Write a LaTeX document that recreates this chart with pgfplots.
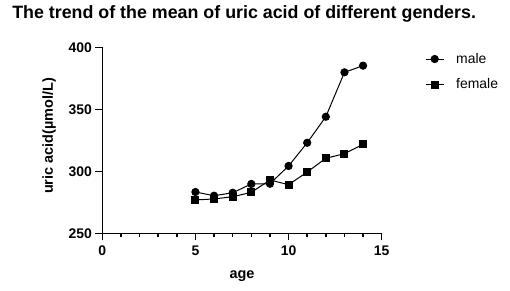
\documentclass[border=0pt]{standalone}
\usepackage{fontspec}
\setmainfont{Liberation Sans}
\usepackage{pgfplots}
\pgfplotsset{compat=1.18}
\begin{document}
\begin{tikzpicture}
\path[use as bounding box] (-102.3bp,-57.7bp) rectangle (407.7bp,233.3bp);
\begin{axis}[
  scale only axis,
  width=279.4bp, height=186bp,
  xmin=0, xmax=15, ymin=250, ymax=400,
  axis lines=left,
  axis line style={-, line width=1.5bp},
  xtick={0,5,10,15},
  minor xtick={1,2,3,4,6,7,8,9,11,12,13,14},
  ytick={250,300,350,400},
  tick align=outside,
  major tick length=7bp,
  minor tick length=4bp,
  tick style={line width=1.5bp, black},
  /pgf/number format/assume math mode=true,
  ticklabel style={font=\bfseries\fontsize{14}{16}\selectfont},
  xticklabel style={yshift=-2bp},
  xlabel={age},
  ylabel={uric acid(µmol/L)},
  xlabel style={font=\bfseries\fontsize{14.5}{16}\selectfont, at={(axis description cs:0.5,-0.232)}, anchor=center},
  ylabel style={font=\bfseries\fontsize{14.5}{16}\selectfont, at={(axis description cs:-0.19,0.523)}, anchor=center},
  title={The trend of the mean of uric acid of different genders.},
  title style={font=\bfseries\fontsize{17.9}{20}\selectfont, at={(axis description cs:-0.323,1.145)}, anchor=west, inner sep=0pt},
  clip=false,
  legend style={draw=none, fill=none, at={(axis description cs:1.155,0.98)}, anchor=north west,
    font=\fontsize{14}{16}\selectfont, inner sep=0pt, row sep=10bp, cells={anchor=west},
    /tikz/every odd column/.style={column sep=10bp}},
  legend image code/.code={\draw[mark repeat=2,mark phase=2] plot coordinates {(0bp,0bp)(9bp,0bp)(18bp,0bp)};},
]
\addplot[black, line width=1bp, mark=*, mark size=3.6bp] coordinates {
(5,283.3)(6,280.3)(7,282.7)(8,289.8)(9,290.0)(10,304.3)(11,323.0)(12,344.0)(13,379.8)(14,385.2)};
\addlegendentry{male}
\addplot[black, line width=1bp, mark=square*, mark size=3.5bp] coordinates {
(5,276.9)(6,277.7)(7,279.5)(8,283.0)(9,293.0)(10,289.2)(11,299.4)(12,310.5)(13,314.2)(14,321.8)};
\addlegendentry{female}
\end{axis}
\end{tikzpicture}
\end{document}
